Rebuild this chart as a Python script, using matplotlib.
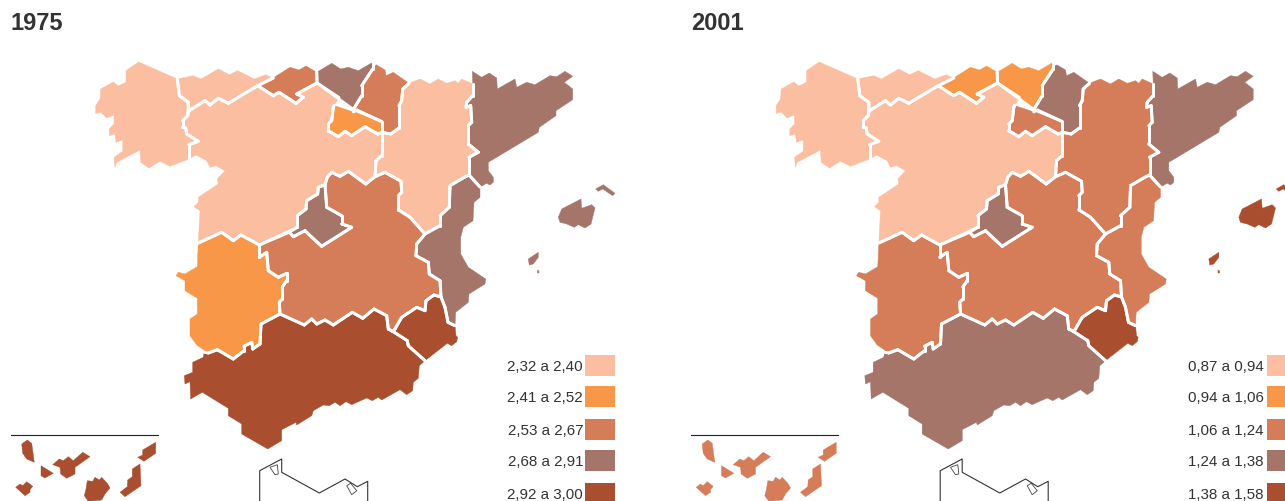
import numpy as np
import matplotlib
matplotlib.use('Agg')
import matplotlib.pyplot as plt

# contornos de las comunidades (en pixeles del mapa de 1975)
galicia = [(138.7,63),(177.3,80),(179.3,96.7),(188.3,103.3),(187.7,116.7),(182.7,121.7),(182.7,128.3),(185.7,129),(186.7,135),(198.3,142.3),(189,145.7),(189,160),(170,167.3),(160,162.3),(149,169),(140.7,163.3),(140,151),(116.7,163.3),(115,168.3),(114,158.3),(122.7,152.3),(122.7,141),(116,143.3),(115,135),(109.3,136.7),(109.3,130),(114,125),(114,116),(106.7,119),(101,113.3),(95.7,114.3),(95.7,106.7),(100,100),(100.7,90),(113.3,83),(118.3,87),(126,83.3),(126,71.7)]
asturias = [(177.3,80),(193.3,76.7),(201,80),(218.3,70),(229.3,75.7),(237.7,71.7),(254.3,80),(265.7,75.7),(273.3,79),(257.7,86.7),(228.3,104.3),(218.3,99.3),(210,106),(205,101.7),(189,111.7),(188.3,103.3),(179.3,96.7)]
cantabria = [(273.3,79),(276.7,76.7),(290,68.3),(299,71),(306,67),(316.7,73.3),(317,84),(296.7,95),(303.3,98.3),(296,104.3),(279,93.3),(273.3,96.7),(257.7,86.7)]
pais_vasco = [(316.7,73.3),(331.7,64.3),(340.7,70),(348.3,68.3),(358.3,71.7),(372.7,63.3),(372.7,70),(368.3,76.7),(361.7,86.7),(361.7,96.7),(353.3,110.5),(317,84)]
navarra = [(372.7,63.3),(375,65),(385,71),(386,76.7),(393.3,73.3),(409,84.3),(402.7,90),(401.7,101.7),(399,106.7),(399,129),(390.7,135),(381.7,133.3),(381.7,122.5),(353.3,110.5),(361.7,96.7),(361.7,86.7),(368.3,76.7),(372.7,70)]
rioja = [(334,106.5),(353.3,113),(357,111),(381.7,122.5),(381.7,133.3),(377.7,135),(365,127.7),(351.7,136.7),(345,132.3),(338.3,137.7),(328.3,131.7),(328.3,125),(331.7,121.7),(333.3,108.3)]
castilla_leon = [(257.7,86.7),(273.3,96.7),(279,93.3),(296,104.3),(303.3,98.3),(296.7,95),(317,84),(339,98.5),(334,106.5),(333.3,108.3),(331.7,121.7),(328.3,125),(328.3,131.7),(338.3,137.7),(345,132.3),(351.7,136.7),(365,127.7),(377.7,135),(381.7,133.3),(381.7,156.7),(376,161.7),(375,177.7),(365.7,185),(348.3,172.3),(340,177.3),(331.7,173.3),(327.3,178.3),(325,185.7),(318.3,188.3),(317.7,195),(306.7,201.7),(306,210),(297.3,216.7),(297.3,228.3),(259.3,246),(241,236),(233.3,241.7),(221.7,233.3),(198.3,244),(200,211.7),(194,207.7),(198.3,203.3),(198.3,198.3),(218.3,185),(217.3,180),(225,171.7),(216,166.7),(210,168.3),(206.7,161.7),(196,156),(189,160),(189,145.7),(198.3,142.3),(186.7,135),(185.7,129),(182.7,128.3),(182.7,121.7),(187.7,116.7),(189,111.7),(205,101.7),(210,106),(218.3,99.3),(228.3,104.3)]
aragon = [(409,84.3),(420,80),(430,85),(438.3,80),(446.7,84.3),(455,81.7),(458.3,84.3),(461.7,80),(472.7,85),(472.7,96.7),(466.7,103.3),(466,108.3),(470.7,106.7),(471.7,123.3),(468.3,126.7),(468.3,145),(478.3,153.3),(469,158.3),(469,176),(464.3,178.3),(450,186.7),(449.3,208.3),(440,216.7),(440,226.7),(425,235),(410,218.3),(398.3,210.7),(398.3,196.7),(401.7,193.3),(401,182.3),(385,173.3),(375,177.7),(376,161.7),(381.7,156.7),(381.7,133.3),(390.7,135),(399,129),(399,106.7),(401.7,101.7),(402.7,90)]
cataluna = [(472.3,72.3),(481.7,78.3),(489.3,74),(496.7,79),(497.3,90),(515,80),(516.7,88.3),(526.7,83.3),(535,85.7),(550,76.7),(556.7,77.7),(565,72.3),(572.7,77.3),(564.3,83.3),(572.7,90),(572.7,100.7),(556,111.7),(556,116.7),(539.3,128.3),(538.3,133.3),(488.3,163.3),(488.3,171.7),(493.3,178.3),(493.3,183.3),(490,186),(486.7,184.3),(480,188),(469,176),(469,158.3),(478.3,153.3),(468.3,145),(468.3,126.7),(471.7,123.3),(470.7,106.7),(466,108.3),(466.7,103.3),(472.7,96.7),(472.7,85)]
madrid = [(325,185.7),(326.7,208.3),(341.7,216.7),(341.7,225),(351.7,228.3),(321.7,247.3),(311.7,238.3),(305,231.7),(293.3,237.7),(289.3,233.3),(297.3,228.3),(297.3,216.7),(306,210),(306.7,201.7),(317.7,195),(318.3,188.3)]
castilla_mancha = [(325,185.7),(327.3,178.3),(331.7,173.3),(340,177.3),(348.3,172.3),(365.7,185),(375,177.7),(385,173.3),(401,182.3),(401.7,193.3),(398.3,196.7),(398.3,210.7),(410,218.3),(425,235),(416.7,245),(416,256.7),(428.3,263.3),(429.3,275),(440,281.7),(441,298),(434,296),(426,301.7),(425,311.7),(416.7,308.3),(401.7,318.3),(395,330),(392.7,332.3),(388.3,330),(386.7,316.7),(374,310),(362.7,319.3),(352.3,313.3),(333.3,326),(325,321),(316.7,325),(311.7,320),(304.3,326),(280,315),(279.3,303.3),(282.3,300),(282.3,288),(286.7,281.7),(286.7,274.3),(278.3,278.3),(268.3,271.7),(266.7,253.3),(259.3,258.3),(259.3,246),(289.3,233.3),(293.3,237.7),(305,231.7),(321.7,247.3),(351.7,228.3),(341.7,225),(341.7,216.7),(326.7,208.3)]
valencia = [(464.3,178.3),(469,176),(480,188),(480,198.3),(474,203.3),(473,221.7),(463.3,228.3),(460.7,238.3),(460.7,255),(468.3,268.3),(485.7,280),(485,285),(469,295),(468.3,303.3),(455.7,313.3),(455,326.7),(448,323.3),(445,308.3),(441,298),(440,281.7),(429.3,275),(428.3,263.3),(416,256.7),(416.7,245),(425,235),(440,226.7),(440,216.7),(449.3,208.3),(450,186.7)]
extremadura = [(198.3,244),(221.7,233.3),(233.3,241.7),(241,236),(259.3,246),(259.3,258.3),(266.7,253.3),(268.3,271.7),(278.3,278.3),(286.7,274.3),(286.7,281.7),(282.3,288),(282.3,300),(279.3,303.3),(280,315),(261,325),(260,345),(252.7,350),(251.7,343.3),(244,347.3),(244,351.7),(233.3,360),(217.3,350.7),(208.3,354),(196.7,346),(190,336.7),(190,320),(197.3,315),(197.3,299.3),(185,291.7),(185,281.7),(176,276.7),(178.3,273.3),(185,275),(197.3,267.7)]
andalucia = [(280,315),(304.3,326),(311.7,320),(316.7,325),(325,321),(333.3,326),(352.3,313.3),(362.7,319.3),(374,310),(386.7,316.7),(388.3,330),(392.7,332.3),(407.3,341.7),(408.3,346.7),(425,361.7),(419.3,366.7),(418.3,379.3),(413.3,383.3),(412.7,391.7),(406.7,395.7),(400,390.7),(381.7,401),(378.3,398.3),(372.3,401.7),(366.7,399),(351.7,405.7),(346,402.7),(340,406.7),(335,403.3),(329.3,406.7),(323.3,406),(313.3,411.7),(311.7,416.7),(296.7,426),(296,423.3),(281.7,430.7),(281.7,441.7),(267.7,450),(241.7,435),(241.7,425),(228.3,416.7),(228.3,409.3),(202.3,393.3),(190.7,400),(190,382.7),(185,385),(184.3,376.7),(192.7,373.3),(192.7,363.3),(203.3,358.3),(204,353.3),(208.3,354),(217.3,350.7),(233.3,360),(244,351.7),(244,347.3),(251.7,343.3),(252.7,350),(260,345),(261,325)]
murcia = [(392.7,332.3),(395,330),(401.7,318.3),(416.7,308.3),(425,311.7),(426,301.7),(434,296),(441,298),(445,308.3),(448,323.3),(455,326.7),(456,336.7),(457.7,338.3),(456.7,342.7),(451.7,346.7),(447.3,344.3),(425,361.7),(408.3,346.7),(407.3,341.7)]

# islas
mallorca = [(558.3,218.3),(561.7,210),(581,200),(581.7,209.3),(591.7,205.7),(595,209),(591,225),(585,229),(578.3,225.7),(574.3,228.3),(566.7,225),(560,223.3)]
menorca = [(595.7,190),(603.3,185.7),(615,194.3),(612.7,196.7),(602.7,190),(598.3,192.3)]
ibiza = [(528.3,260),(538.3,253.3),(538.3,258.3),(533.3,265),(529.3,266)]
formentera = [(537.5,271),(539,272),(539,274),(537.5,274)]
baleares = [mallorca, menorca, ibiza, formentera]

canarias = [
    [(21.7,445),(27.3,441),(31.7,444.3),(34.3,463.3),(26.7,460),(22.7,454.3)],
    [(41,466.7),(53.3,474.3),(45,479),(41,476.7)],
    [(52.7,465.7),(59.3,460),(63.3,461.7),(68.3,457.7),(73.3,461.7),(82.7,453.3),(90,457.7),(75,468.3),(75,475),(66.7,479.3),(60.7,475),(60,468.3)],
    [(15.7,488.3),(20,485),(22.7,486.7),(26.7,482.7),(32.7,487.3),(30,490.7),(30,493.3),(25,496.7)],
    [(87.3,481.7),(92.7,482.3),(95,478.3),(99.3,481),(101.7,478.3),(107.3,484.3),(110,489),(105,495),(101.7,501),(88.3,502.3),(84.3,496.7),(86,490)],
    [(140,465),(141,486.7),(125,497.7),(120,493.3),(127.3,487.7),(127.7,481),(132.3,477.7),(132.3,470)],
    [(155.7,443.3),(155.7,454.3),(144,462.3),(137.7,458.3),(142.7,456),(142.7,451)],
]

# recuadro de Ceuta y Melilla
recuadro = [(259.7,502),(259.7,471.7),(281.7,460),(281.7,473.3),(319.3,494),(345,480),(357.3,487.7),(367.7,482.3),(367.7,502)]
ceuta = [(270,468.3),(277.3,465.7),(278.3,475),(275,475.7)]
melilla = [(346.7,486.7),(350.7,484.3),(356.7,491.7),(351.7,495.7)]

peninsula = [galicia, asturias, cantabria, pais_vasco, navarra, rioja, castilla_leon, aragon, cataluna, madrid, castilla_mancha, valencia, extremadura, andalucia, murcia]

# clase de cada comunidad, en el mismo orden que peninsula
clases_1975 = [0, 0, 2, 3, 2, 1, 0, 0, 3, 3, 2, 3, 1, 4, 4]
clases_2001 = [0, 0, 1, 1, 3, 2, 0, 2, 3, 3, 2, 2, 2, 3, 4]
baleares_clase = [3, 4]
canarias_clase = [4, 2]

colores = ['#FBBEA0', '#F99749', '#D57C58', '#A5756A', '#A94F2F']
leyenda_1975 = ['2,32 a 2,40', '2,41 a 2,52', '2,53 a 2,67', '2,68 a 2,91', '2,92 a 3,00']
leyenda_2001 = ['0,87 a 0,94', '0,94 a 1,06', '1,06 a 1,24', '1,24 a 1,38', '1,38 a 1,58']
leyenda_y = [356, 387, 420, 451, 484]
titulos = ['1975', '2001']

gris = '#333333'


def distancia(p, poligono):
    '''Distancia de un punto al contorno de un poligono'''
    a = np.array(poligono)
    b = np.roll(a, -1, axis=0)
    d = b - a
    t = np.clip(((p - a) * d).sum(axis=1) / (d * d).sum(axis=1).clip(1e-9), 0, 1)
    return np.hypot(*(a + t[:, None] * d - p).T).min()


def fronteras():
    '''Tramos interiores: solo estos llevan la linea blanca'''
    tramos = []
    for i, region in enumerate(peninsula):
        for j in range(len(region)):
            p0 = np.array(region[j])
            p1 = np.array(region[(j + 1) % len(region)])
            mitad = (p0 + p1) / 2
            for k, otra in enumerate(peninsula):
                if k != i and distancia(mitad, otra) < 2.0:
                    tramos.append((p0, p1))
                    break
    return tramos


def dibuja_mapa(ax, dx, clases, baleares_c, canarias_c):
    for region, c in zip(peninsula, clases):
        x, y = zip(*region)
        ax.fill(np.array(x) + dx, y, color=colores[c], lw=0.3)
    for isla in baleares:
        x, y = zip(*isla)
        ax.fill(np.array(x) + dx, y, color=colores[baleares_c], lw=0.3)
    for isla in canarias:
        x, y = zip(*isla)
        ax.fill(np.array(x) + dx, y, color=colores[canarias_c], lw=0.3)
    for p0, p1 in tramos:
        ax.plot([p0[0] + dx, p1[0] + dx], [p0[1], p1[1]], color='white', lw=2.1, solid_capstyle='round')
    # linea de Canarias y recuadro
    ax.plot([10.7 + dx, 157.7 + dx], [436, 436], color='#222222', lw=0.8)
    x, y = zip(*recuadro)
    ax.plot(np.array(x) + dx, y, color='#333333', lw=0.8)
    for marca in [ceuta, melilla]:
        x, y = zip(*marca)
        ax.fill(np.array(x) + dx, y, facecolor='white', edgecolor='#444444', lw=0.6)


def dibuja_leyenda(ax, x_cuadro, x_texto, textos):
    for y, c, t in zip(leyenda_y, colores, textos):
        ax.fill([x_cuadro, x_cuadro + 30, x_cuadro + 30, x_cuadro],
                [y, y, y + 21, y + 21], color=c, lw=0)
        ax.text(x_texto, y + 11.5, t, ha='right', va='center', fontsize=10.9,
                color=gris, family='Liberation Sans')


tramos = fronteras()

fig = plt.figure(figsize=(12.85, 5.02), dpi=100)
ax = fig.add_axes([0, 0, 1, 1])
ax.set_xlim(0, 1285)
ax.set_ylim(502, 0)
ax.axis('off')

dibuja_mapa(ax, 0, clases_1975, baleares_clase[0], canarias_clase[0])
dibuja_mapa(ax, 680.5, clases_2001, baleares_clase[1], canarias_clase[1])
dibuja_leyenda(ax, 585, 583, leyenda_1975)
dibuja_leyenda(ax, 1267, 1264, leyenda_2001)

ax.text(11, 23, titulos[0], fontsize=17, fontweight='bold', color=gris,
        family='Liberation Sans', va='center')
ax.text(691, 23, titulos[1], fontsize=17, fontweight='bold', color=gris,
        family='Liberation Sans', va='center')

ax.set_xlim(0, 1285)
ax.set_ylim(502, 0)
fig.savefig('out.png', dpi=100)
